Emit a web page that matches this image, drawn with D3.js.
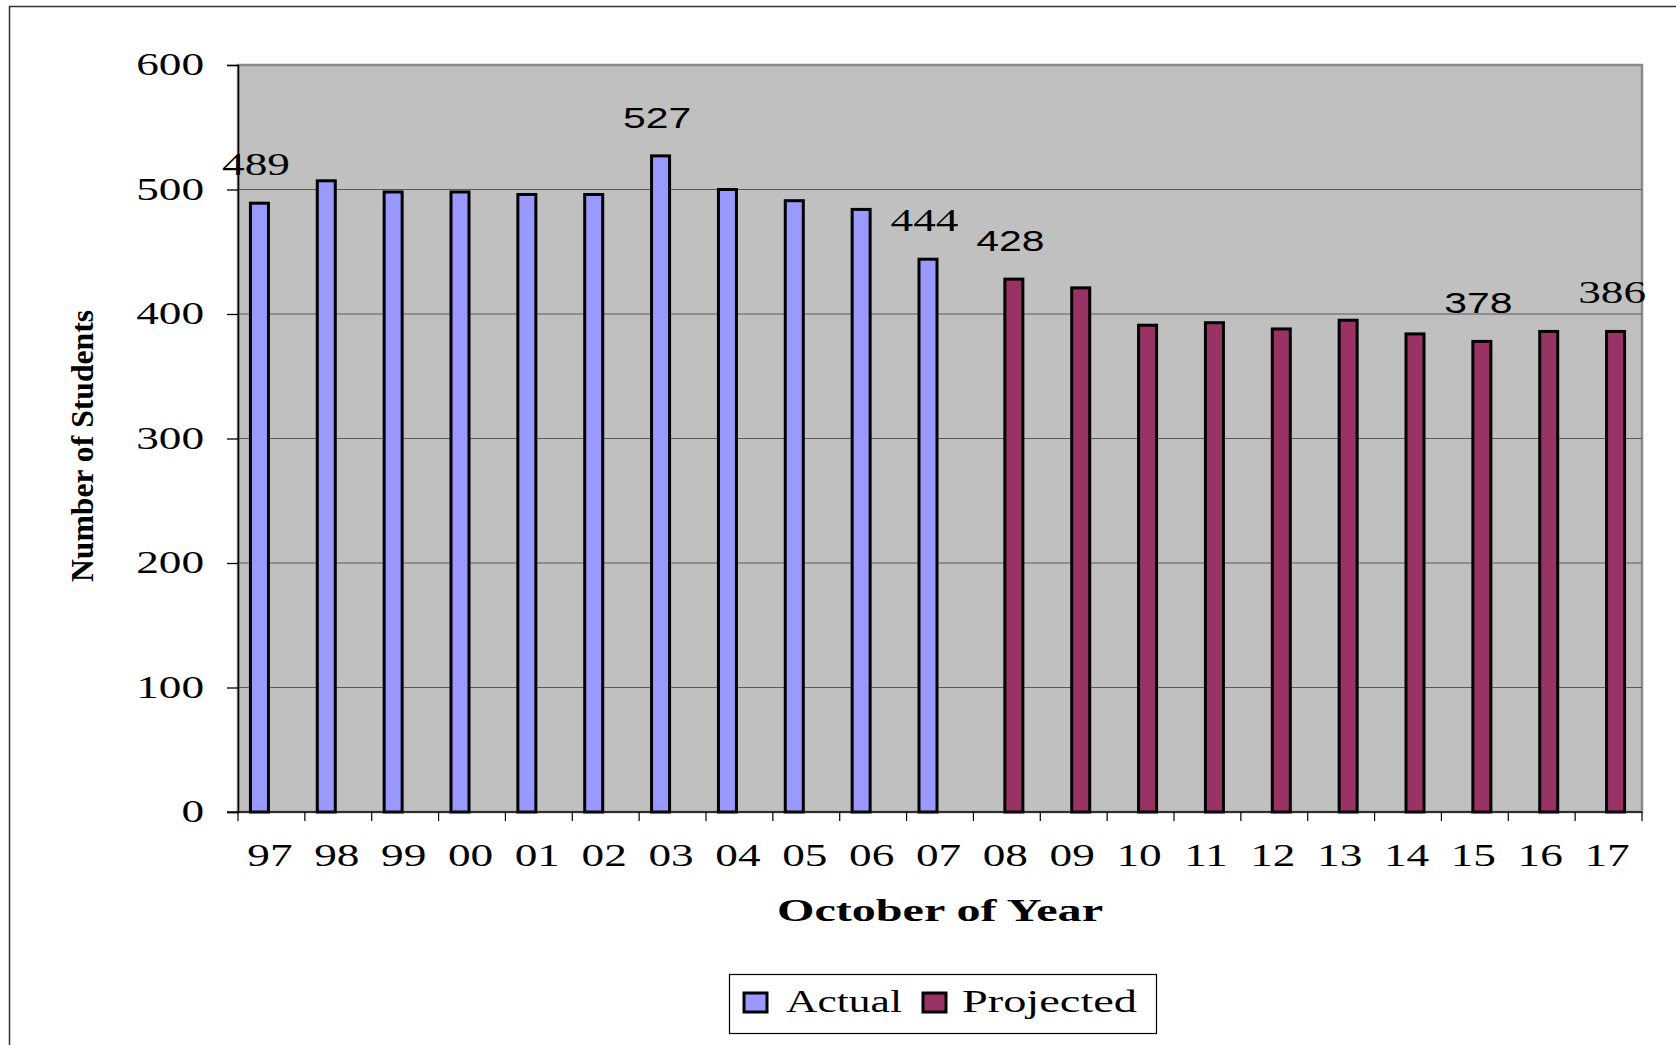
<!DOCTYPE html>
<html>
<head>
<meta charset="utf-8">
<script src="https://cdn.jsdelivr.net/npm/d3@7"></script>
<style>
  body { margin: 0; background: #fff; }
  svg { display: block; }
</style>
</head>
<body>
<svg id="chart" width="1676" height="1045"></svg>
<script>
// data
let years = ["97", "98", "99", "00", "01", "02", "03", "04", "05", "06", "07",
             "08", "09", "10", "11", "12", "13", "14", "15", "16", "17"];
let actual = [489, 507, 498, 498, 496, 496, 527, 500, 491, 484, 444,
              null, null, null, null, null, null, null, null, null, null];
let projected = [null, null, null, null, null, null, null, null, null, null, null,
                 428, 421, 391, 393, 388, 395, 384, 378, 386, 386];
let seriesNames = ["Actual", "Projected"];
let yTicks = [0, 100, 200, 300, 400, 500, 600];
let labeledYears = ["97", "03", "07", "08", "15", "17"];

let colors = { "Actual": "#9999FF", "Projected": "#993366" };
// the few data labels that came out in a sans face in the original
let sansLabels = ["03", "08", "15"];

let plotLeft = 238, plotRight = 1642, plotTop = 65, plotBottom = 812;
let serif = "'Liberation Serif', 'Times New Roman', serif";
let sans = "'Liberation Sans', Arial, sans-serif";

let svg = d3.select("#chart");

// outer frame (only top and left edges fall inside the picture)
svg.append("rect")
    .attr("x", 9.5).attr("y", 6.5)
    .attr("width", 1700).attr("height", 1100)
    .attr("fill", "none")
    .attr("stroke", "#333")
    .attr("stroke-width", 1.5);

let xScale = d3.scaleBand()
    .domain(years)
    .range([plotLeft, plotRight]);

// two slots per year, sitting a little left of the band centre
let mid = xScale.bandwidth() / 2;
let subScale = d3.scaleBand()
    .domain(seriesNames)
    .range([mid - 21, mid + 17]);

let yScale = d3.scaleLinear()
    .domain([0, 600])
    .range([plotBottom, plotTop]);

// plot background
svg.append("rect")
    .attr("x", plotLeft).attr("y", plotTop)
    .attr("width", plotRight - plotLeft).attr("height", plotBottom - plotTop)
    .attr("fill", "#C0C0C0")
    .attr("stroke", "#8a8a8a")
    .attr("stroke-width", 2.5);

// gridlines
svg.selectAll(".grid")
    .data(yTicks.filter(d => d > 0 && d < 600))
    .enter()
    .append("line")
    .attr("x1", plotLeft).attr("x2", plotRight)
    .attr("y1", d => yScale(d)).attr("y2", d => yScale(d))
    .attr("stroke", "#5a5a5a")
    .attr("stroke-width", 1.2);

// helper: stretched text, like the wide glyphs in the original
function stretchedText(g, x, y, str, family, size, sx, anchor) {
    return g.append("text")
        .attr("transform", "translate(" + x + "," + y + ") scale(" + sx + ",1)")
        .attr("text-anchor", anchor)
        .style("font-family", family)
        .style("font-size", size + "px")
        .style("fill", "#000")
        .text(str);
}

// bars
let rows = years.map((yr, i) => ({ year: yr, Actual: actual[i], Projected: projected[i] }));
seriesNames.forEach(function(name) {
    svg.selectAll(".bar-" + name)
        .data(rows.filter(d => d[name] != null))
        .enter()
        .append("rect")
        .attr("x", d => xScale(d.year) + subScale(name))
        .attr("y", d => yScale(d[name]))
        .attr("width", subScale.bandwidth() - 1)
        .attr("height", d => yScale(0) - yScale(d[name]))
        .attr("fill", colors[name])
        .attr("stroke", "#000")
        .attr("stroke-width", 3);
});

// y axis
let yAxis = svg.append("g")
    .attr("transform", "translate(" + plotLeft + ",0)")
    .call(d3.axisLeft(yScale).tickValues(yTicks).tickSize(11).tickFormat(""));
yAxis.selectAll("line").attr("stroke", "#000").attr("stroke-width", 1.3);
yAxis.select(".domain").attr("stroke", "#000").attr("stroke-width", 1.5);
yTicks.forEach(function(t) {
    stretchedText(svg, 204, yScale(t) + 10, String(t), serif, 31, 1.46, "end");
});

// x axis, ticks on the category boundaries
let xAxis = svg.append("g")
    .attr("transform", "translate(0," + plotBottom + ")");
xAxis.append("line")
    .attr("x1", plotLeft - 11).attr("x2", plotRight)
    .attr("stroke", "#111").attr("stroke-width", 1.5);
xAxis.selectAll(".xtick")
    .data(years.concat(["end"]))
    .enter()
    .append("line")
    .attr("x1", (d, i) => i < years.length ? xScale(d) : plotRight)
    .attr("x2", (d, i) => i < years.length ? xScale(d) : plotRight)
    .attr("y1", 0).attr("y2", 9)
    .attr("stroke", "#000").attr("stroke-width", 1.2);
years.forEach(function(yr) {
    stretchedText(svg, xScale(yr) + mid - 1.5, 866, yr, serif, 31, 1.46, "middle");
});

// data labels
rows.forEach(function(d) {
    if (labeledYears.indexOf(d.year) < 0) return;
    let name = d.Actual != null ? "Actual" : "Projected";
    let cx = xScale(d.year) + subScale(name) + subScale.bandwidth() / 2 - 4;
    let isSans = sansLabels.indexOf(d.year) >= 0;
    stretchedText(svg, cx, yScale(d[name]) - 28, String(d[name]),
        isSans ? sans : serif, isSans ? 29 : 31, isSans ? 1.41 : 1.46, "middle");
});

// axis titles
svg.append("text")
    .attr("x", (plotLeft + plotRight) / 2)
    .attr("y", 921)
    .attr("text-anchor", "middle")
    .attr("textLength", 326)
    .attr("lengthAdjust", "spacingAndGlyphs")
    .style("font-family", serif)
    .style("font-weight", "bold")
    .style("font-size", "31px")
    .text("October of Year");

svg.append("text")
    .attr("transform", "translate(93,446) rotate(-90)")
    .attr("text-anchor", "middle")
    .attr("textLength", 272)
    .attr("lengthAdjust", "spacingAndGlyphs")
    .style("font-family", serif)
    .style("font-weight", "bold")
    .style("font-size", "32px")
    .text("Number of Students");

// legend
let legend = svg.append("g");
legend.append("rect")
    .attr("x", 729.5).attr("y", 974.5)
    .attr("width", 427).attr("height", 59)
    .attr("fill", "#fff")
    .attr("stroke", "#000")
    .attr("stroke-width", 1.2);
let legendItems = [
    { name: "Actual", sw: 744, tx: 786, len: 116 },
    { name: "Projected", sw: 923, tx: 962, len: 175 }
];
legendItems.forEach(function(item) {
    legend.append("rect")
        .attr("x", item.sw).attr("y", 993)
        .attr("width", 23).attr("height", 19)
        .attr("fill", colors[item.name])
        .attr("stroke", "#000")
        .attr("stroke-width", 3);
    legend.append("text")
        .attr("x", item.tx).attr("y", 1012)
        .attr("textLength", item.len)
        .attr("lengthAdjust", "spacingAndGlyphs")
        .style("font-family", serif)
        .style("font-size", "31px")
        .text(item.name);
});
</script>
</body>
</html>
